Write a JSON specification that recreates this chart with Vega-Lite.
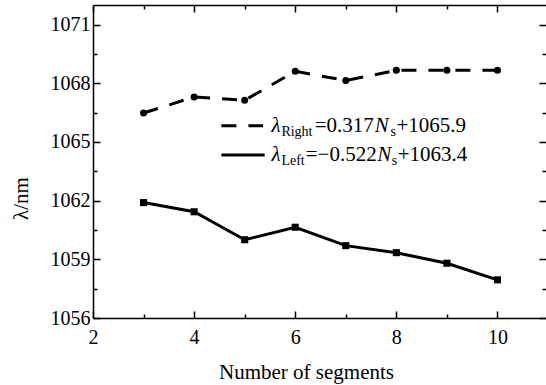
{
  "$schema": "https://vega.github.io/schema/vega-lite/v6.json",
  "width": 453,
  "height": 313,
  "autosize": {"type": "none"},
  "padding": {"left": 93, "top": 5, "right": 0, "bottom": 67},
  "background": "white",
  "config": {
    "view": {"stroke": null},
    "font": "Liberation Serif",
    "axis": {
      "grid": false,
      "domainColor": "black",
      "domainWidth": 1.5,
      "tickColor": "black",
      "tickWidth": 1.5,
      "labelFont": "Liberation Serif",
      "labelFontSize": 20,
      "labelColor": "black",
      "titleFont": "Liberation Serif",
      "titleFontSize": 21,
      "titleFontWeight": "normal",
      "titleColor": "black",
      "labelFlush": false,
      "labelOverlap": false
    }
  },
  "datasets": {
    "right": [
      {"x": 3, "y": 1066.48},
      {"x": 4, "y": 1067.3},
      {"x": 5, "y": 1067.13},
      {"x": 6, "y": 1068.61},
      {"x": 7, "y": 1068.14},
      {"x": 8, "y": 1068.66},
      {"x": 9, "y": 1068.66},
      {"x": 10, "y": 1068.66}
    ],
    "left": [
      {"x": 3, "y": 1061.9},
      {"x": 4, "y": 1061.43},
      {"x": 5, "y": 1060.0},
      {"x": 6, "y": 1060.64},
      {"x": 7, "y": 1059.7},
      {"x": 8, "y": 1059.34},
      {"x": 9, "y": 1058.8},
      {"x": 10, "y": 1057.95}
    ],
    "legendDashed": [
      {"x": 4.54, "y": 1065.83},
      {"x": 5.362, "y": 1065.83}
    ],
    "legendSolid": [
      {"x": 4.54, "y": 1064.33},
      {"x": 5.396, "y": 1064.33}
    ],
    "legendItalic": [
      {"x": 5.529, "y": 1065.83, "text": "λ"},
      {"x": 7.572, "y": 1065.83, "text": "N"},
      {"x": 5.529, "y": 1064.33, "text": "λ"},
      {"x": 7.621, "y": 1064.33, "text": "N"}
    ],
    "legendSub": [
      {"x": 5.726, "y": 1065.83, "text": "Right"},
      {"x": 7.882, "y": 1065.83, "text": "s"},
      {"x": 5.726, "y": 1064.33, "text": "Left"},
      {"x": 7.908, "y": 1064.33, "text": "s"}
    ],
    "legendMain": [
      {"x": 6.385, "y": 1065.83, "text": "=0.317"},
      {"x": 8.001, "y": 1065.83, "text": "+1065.9"},
      {"x": 6.207, "y": 1064.33, "text": "=−0.522"},
      {"x": 8.027, "y": 1064.33, "text": "+1063.4"}
    ]
  },
  "encoding": {
    "x": {"field": "x", "type": "quantitative", "scale": {"domain": [2, 10.96], "nice": false, "zero": false}, "axis": null},
    "y": {"field": "y", "type": "quantitative", "scale": {"domain": [1056, 1072], "nice": false, "zero": false}, "axis": null}
  },
  "layer": [
    {
      "data": {"name": "right"},
      "mark": {"type": "line", "color": "black", "strokeWidth": 3, "strokeDash": [15, 12]},
      "encoding": {
        "x": {
          "field": "x", "type": "quantitative",
          "scale": {"domain": [2, 10.96], "nice": false, "zero": false},
          "axis": {
            "orient": "bottom",
            "values": [2, 3, 4, 5, 6, 7, 8, 9, 10],
            "labelExpr": "datum.value % 2 == 0 ? datum.label : ''",
            "tickSize": {"condition": {"test": "datum.value % 2 == 0", "value": -7}, "value": -4},
            "labelPadding": 16,
            "title": "Number of segments",
            "titleX": 213,
            "titleY": 54,
            "titleBaseline": "middle"
          }
        },
        "y": {
          "field": "y", "type": "quantitative",
          "scale": {"domain": [1056, 1072], "nice": false, "zero": false},
          "axis": {
            "orient": "left",
            "values": [1056, 1057.5, 1059, 1060.5, 1062, 1063.5, 1065, 1066.5, 1068, 1069.5, 1071],
            "format": "d",
            "labelExpr": "(datum.value - 1056) % 3 == 0 ? datum.label : ''",
            "tickSize": {"condition": {"test": "(datum.value - 1056) % 3 == 0", "value": -7}, "value": -4},
            "labelPadding": 10,
            "title": "λ/nm",
            "titleX": -72,
            "titleY": 193,
            "titleBaseline": "middle"
          }
        }
      }
    },
    {
      "data": {"name": "right"},
      "mark": {"type": "point", "shape": "circle", "filled": true, "color": "black", "opacity": 1, "size": 50},
      "encoding": {
        "x": {
          "field": "x", "type": "quantitative",
          "scale": {"domain": [2, 10.96], "nice": false, "zero": false},
          "axis": {
            "orient": "top",
            "values": [2, 3, 4, 5, 6, 7, 8, 9, 10],
            "labels": false,
            "tickSize": {"condition": {"test": "datum.value % 2 == 0", "value": -7}, "value": -4},
            "title": null
          }
        },
        "y": {
          "field": "y", "type": "quantitative",
          "scale": {"domain": [1056, 1072], "nice": false, "zero": false},
          "axis": {
            "orient": "right",
            "values": [1056, 1057.5, 1059, 1060.5, 1062, 1063.5, 1065, 1066.5, 1068, 1069.5, 1071],
            "labels": false,
            "domain": false,
            "tickSize": {"condition": {"test": "(datum.value - 1056) % 3 == 0", "value": -7}, "value": -4},
            "title": null
          }
        }
      }
    },
    {
      "data": {"name": "left"},
      "mark": {"type": "line", "color": "black", "strokeWidth": 3}
    },
    {
      "data": {"name": "left"},
      "mark": {"type": "point", "shape": "square", "filled": true, "color": "black", "opacity": 1, "size": 50}
    },
    {
      "data": {"name": "legendDashed"},
      "mark": {"type": "line", "color": "black", "strokeWidth": 3, "strokeDash": [15, 12]}
    },
    {
      "data": {"name": "legendSolid"},
      "mark": {"type": "line", "color": "black", "strokeWidth": 3}
    },
    {
      "data": {"name": "legendItalic"},
      "mark": {"type": "text", "font": "Liberation Serif", "fontSize": 21, "fontStyle": "italic", "align": "left", "baseline": "middle", "color": "black"},
      "encoding": {"text": {"field": "text"}}
    },
    {
      "data": {"name": "legendSub"},
      "mark": {"type": "text", "font": "Liberation Serif", "fontSize": 14, "align": "left", "baseline": "alphabetic", "dy": 10, "color": "black"},
      "encoding": {"text": {"field": "text"}}
    },
    {
      "data": {"name": "legendMain"},
      "mark": {"type": "text", "font": "Liberation Serif", "fontSize": 21, "align": "left", "baseline": "middle", "color": "black"},
      "encoding": {"text": {"field": "text"}}
    }
  ],
  "resolve": {"axis": {"x": "independent", "y": "independent"}}
}
